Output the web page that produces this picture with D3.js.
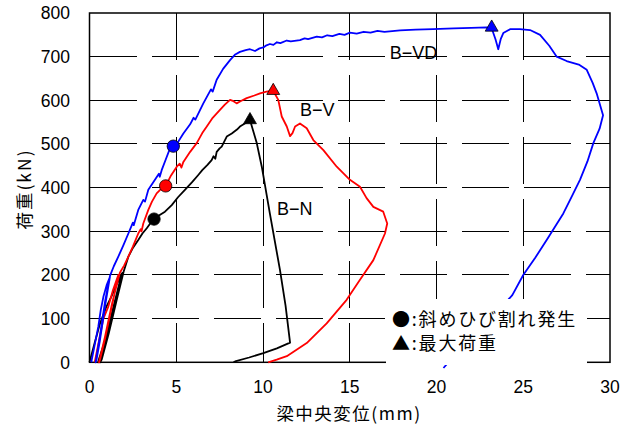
<!DOCTYPE html>
<html><head><meta charset="utf-8">
<script src="https://cdn.jsdelivr.net/npm/d3@7"></script>
<style>
html,body{margin:0;padding:0;background:#fff;}
svg{display:block;}
</style></head>
<body>
<svg id="chart" width="630" height="428"></svg>
<script>
// ---- data ----
const xTicks = [0, 5, 10, 15, 20, 25, 30];
const yTicks = [0, 100, 200, 300, 400, 500, 600, 700, 800];
const xTitle = "梁中央変位(mm)";
const yTitle = "荷重(kN)";

const bnX = [0, 0.3, 0.6, 0.95, 1.28, 1.6, 1.86, 1.4, 0.9, 0.55, 0.5, 0.6, 1.0, 1.5, 1.9, 1.45, 0.95, 0.65, 0.62, 0.7, 1.1, 1.55, 1.97, 2.24, 2.5, 2.81, 3.05, 3.3, 3.5, 3.72, 4.0, 4.35, 4.74, 5.1, 5.5, 5.9, 6.27, 6.5, 6.8, 7.04, 7.15, 7.25, 7.33, 7.5, 7.62, 7.91, 8.2, 8.5, 8.67, 9.0, 9.25, 9.64, 9.93, 10.4, 10.98, 11.3, 11.56, 10.8, 10.02, 9.2, 8.39, 8.3];
const bnY = [0, 45, 88, 125, 152, 182, 203, 130, 50, 8, 0, 2, 60, 140, 205, 130, 50, 6, 0, 6, 65, 140, 208, 242, 262, 280, 295, 307, 318, 328, 336, 345, 360, 378, 395, 412, 429, 440, 452, 463, 472, 466, 482, 490, 494, 517, 524, 533, 540, 548, 555, 502, 448, 340, 211, 130, 45, 32, 21, 11, 2, 0];

const bvX = [0.3, 0.55, 0.8, 1.08, 1.35, 1.66, 1.3, 0.9, 0.6, 0.55, 0.9, 1.3, 1.75, 2.0, 2.24, 2.5, 2.81, 2.95, 3.0, 3.1, 3.39, 3.6, 3.87, 4.1, 4.39, 4.7, 5.03, 5.2, 5.3, 5.41, 5.8, 6.18, 6.5, 6.76, 7.1, 7.52, 7.8, 8.1, 8.3, 8.48, 8.7, 9.06, 9.5, 9.83, 10.2, 10.59, 10.88, 11.08, 11.37, 11.56, 11.7, 11.85, 12.13, 12.52, 12.9, 13.48, 14.25, 15.01, 15.59, 15.97, 16.36, 16.93, 17.16, 17.03, 16.36, 15.59, 14.82, 13.67, 12.52, 11.37, 10.79, 10.3];
const bvY = [0, 50, 100, 127, 165, 200, 130, 55, 5, 0, 60, 135, 205, 222, 242, 265, 295, 305, 300, 318, 349, 368, 387, 396, 404, 428, 448, 455, 446, 459, 482, 502, 525, 540, 560, 578, 590, 601, 598, 593, 598, 605, 611, 616, 620, 622, 601, 563, 540, 518, 525, 540, 547, 536, 509, 486, 448, 418, 402, 376, 356, 345, 318, 295, 234, 189, 143, 89, 44, 14, 6, 0];

const bvdX = [0.1, 0.3, 0.51, 0.65, 0.8, 1.0, 1.18, 0.9, 0.6, 0.4, 0.35, 0.6, 0.9, 1.18, 1.4, 1.66, 1.95, 2.24, 2.5, 2.55, 2.81, 3.1, 3.2, 3.39, 3.8, 4.0, 4.05, 4.16, 4.4, 4.64, 4.9, 5.0, 5.41, 5.8, 6.0, 6.1, 6.56, 7.0, 7.1, 7.33, 7.7, 8.1, 8.4, 8.67, 9.0, 9.25, 9.54, 9.8, 10.02, 10.2, 10.4, 10.6, 10.8, 11.0, 11.37, 11.6, 12.13, 12.4, 12.6, 13.1, 13.4, 13.7, 14.0, 14.4, 14.7, 15.01, 15.4, 15.8, 16.2, 16.6, 17.0, 17.9, 18.8, 19.8, 21.0, 22.0, 22.89, 23.18, 23.4, 23.56, 23.7, 23.85, 24.24, 24.8, 25.39, 25.97, 26.5, 26.93, 27.5, 28.2, 28.66, 29.0, 29.23, 29.6, 29.4, 29.04, 28.7, 28.27, 27.8, 27.31, 26.35, 25.7, 25.0, 24.37, 23.4, 22.5, 21.7, 21.07, 20.4];
const bvdY = [0, 40, 82, 120, 150, 178, 196, 130, 50, 5, 0, 60, 140, 198, 220, 242, 268, 295, 320, 314, 349, 372, 368, 395, 420, 432, 425, 440, 465, 490, 500, 498, 524, 545, 560, 556, 593, 625, 620, 647, 672, 692, 705, 711, 715, 717, 713, 719, 721, 726, 729, 727, 733, 731, 737, 735, 738, 742, 740, 746, 744, 749, 747, 752, 750, 755, 753, 757, 755, 759, 757, 760, 762, 763, 765, 766, 767, 765, 740, 717, 740, 754, 763, 763, 761, 750, 725, 700, 690, 682, 670, 640, 616, 566, 535, 502, 460, 418, 380, 341, 280, 240, 200, 154, 110, 74, 40, 17, -13];

const seriesNames = ["B-N", "B-V", "B-VD"];
const seriesColors = ["#000000", "#ff0000", "#0000ff"];
const crackX = [3.72, 4.39, 4.83];
const crackY = [328, 404, 495];
const maxX = [9.25, 10.59, 23.18];
const maxY = [555, 622, 767];
const labelX = [10.8, 12.13, 17.3];
const labelY = [337, 564, 695];
const legendItems = ["●:斜めひび割れ発生", "▲:最大荷重"];

// ---- chart ----
const svg = d3.select("#chart");
const x = d3.scaleLinear().domain([0, 30]).range([89.5, 610]);
const y = d3.scaleLinear().domain([0, 800]).range([362.3, 13]);
const numFont = "'Liberation Sans', Arial, sans-serif";
const jpFont = "'Noto Sans CJK JP', sans-serif";

// grid
const grid = svg.append("g").attr("stroke", "#000").attr("stroke-width", 1)
  .attr("fill", "none").attr("shape-rendering", "crispEdges");
grid.selectAll("line.v").data(xTicks.slice(1, -1)).join("line")
  .attr("x1", d => x(d)).attr("x2", d => x(d))
  .attr("y1", y(800)).attr("y2", y(0))
  .attr("stroke-dasharray", "47,15");
grid.selectAll("line.h").data(yTicks.slice(1, -1)).join("line")
  .attr("x1", x(0)).attr("x2", x(30))
  .attr("y1", d => y(d)).attr("y2", d => y(d))
  .attr("stroke-dasharray", "47,15");

// frame
svg.append("rect").attr("x", x(0)).attr("y", y(800))
  .attr("width", x(30) - x(0)).attr("height", y(0) - y(800))
  .attr("fill", "none").attr("stroke", "#000").attr("stroke-width", 1.5);

// tick labels
svg.append("g").selectAll("text").data(yTicks).join("text")
  .attr("x", 70).attr("y", d => y(d)).attr("dy", "0.36em")
  .attr("text-anchor", "end").attr("font-family", numFont).attr("font-size", 17.5)
  .text(d => d);
svg.append("g").selectAll("text").data(xTicks).join("text")
  .attr("x", d => x(d)).attr("y", 393)
  .attr("text-anchor", "middle").attr("font-family", numFont).attr("font-size", 17.5)
  .text(d => d);

// axis titles
svg.append("text").attr("x", 349).attr("y", 420).attr("text-anchor", "middle")
  .attr("font-family", jpFont).attr("font-size", 17.5).attr("letter-spacing", 1.5)
  .text(xTitle);
svg.append("text").attr("transform", "translate(31,189) rotate(-90)").attr("text-anchor", "middle")
  .attr("font-family", jpFont).attr("font-size", 17.5).attr("letter-spacing", 2)
  .text(yTitle);

// lines
const seriesX = [bnX, bvX, bvdX];
const seriesY = [bnY, bvY, bvdY];
const line = d3.line().x(d => x(d[0])).y(d => y(d[1]));
seriesX.forEach((xs, i) => {
  const pts = xs.map((v, j) => [v, seriesY[i][j]]);
  svg.append("path").datum(pts).attr("d", line)
    .attr("fill", "none").attr("stroke", seriesColors[i])
    .attr("stroke-width", 1.8).attr("stroke-linejoin", "round");
});

// markers
const circ = d3.symbol().type(d3.symbolCircle).size(120);
const tri = d3.symbol().type(d3.symbolTriangle).size(72);
seriesNames.forEach((n, i) => {
  svg.append("path").attr("d", circ())
    .attr("transform", `translate(${x(crackX[i])},${y(crackY[i])})`)
    .attr("fill", seriesColors[i]).attr("stroke", "#000").attr("stroke-width", 0.8);
  svg.append("path").attr("d", tri())
    .attr("transform", `translate(${x(maxX[i])},${y(maxY[i])})`)
    .attr("fill", seriesColors[i]).attr("stroke", "#000").attr("stroke-width", 0.8);
});

// series labels
svg.append("g").selectAll("text").data(seriesNames).join("text")
  .attr("x", (d, i) => x(labelX[i])).attr("y", (d, i) => y(labelY[i]))
  .attr("font-family", numFont).attr("font-size", 18)
  .text(d => d.replace("-", "\u2212"));

// legend
svg.append("rect").attr("x", 386).attr("y", 299).attr("width", 201).attr("height", 66).attr("fill", "#fff");
svg.append("g").selectAll("text").data(legendItems).join("text")
  .attr("x", 392).attr("y", (d, i) => 326 + i * 24)
  .attr("font-family", jpFont).attr("font-size", 18).attr("letter-spacing", 1.8)
  .text(d => d);
</script>
</body></html>
